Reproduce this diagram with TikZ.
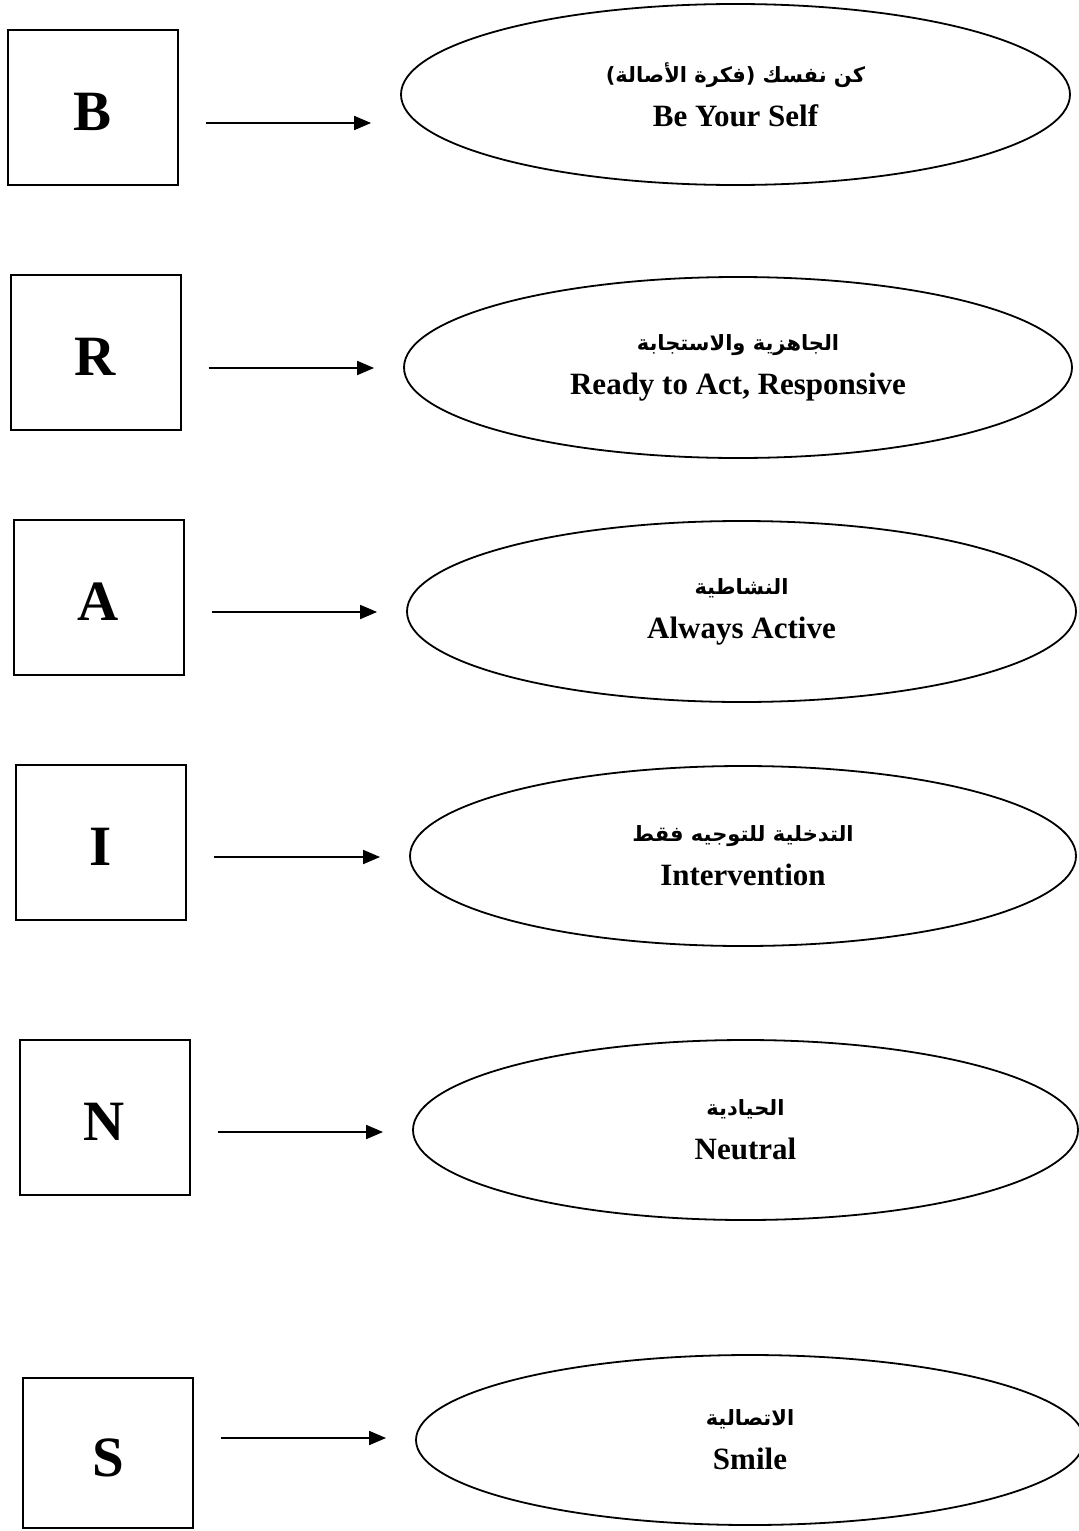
\documentclass[tikz,border=0pt]{standalone}
\usepackage{fontspec}
\setmainfont{Liberation Serif}
\newfontfamily\arabicfont[Script=Arabic]{DejaVu Sans}
\TeXXeTstate=1
\usetikzlibrary{shapes.geometric,arrows.meta}
\tikzset{
  letterbox/.style={draw, line width=1pt, minimum width=85pt, minimum height=77.5pt, inner sep=0pt, font=\fontsize{28.5}{30}\selectfont\bfseries},
  oval/.style={draw, ellipse, line width=0.9pt, inner sep=0pt, align=center, font=\fontsize{15.5}{22}\selectfont\bfseries},
  arr/.style={line width=0.9pt, -{Triangle[length=8.5pt,width=7pt]}, shorten <=13.5pt, shorten >=14.5pt},
}
\newcommand{\ar}[1]{{\arabicfont\fontsize{10.5}{14}\selectfont\bfseries\beginR #1\endR}}
\newcommand{\lt}[1]{\raisebox{-2.2pt}[\height][0pt]{#1}}
\begin{document}
\begin{tikzpicture}[x=0.5pt,y=-0.5pt]
\useasboundingbox (0,0) rectangle (1079,1531);
\begin{scope}
\clip (0,0) rectangle (1079,1531);
% B
\node[letterbox] (bB) at (93,107.5) {\lt{B}};
\node[oval, minimum width=334.5pt, minimum height=90.5pt] (eB) at (735.5,94.5) {\ar{كن نفسك (فكرة الأصالة)}\\ Be Your Self};
\coordinate (aB) at (0,123);
\draw[arr] (bB.east |- aB) -- (eB.west |- aB);
% R
\node[letterbox] (bR) at (95.5,352.5) {\lt{R}};
\node[oval, minimum width=334pt, minimum height=90.5pt] (eR) at (738,367.5) {\ar{الجاهزية والاستجابة}\\ Ready to Act, Responsive};
\coordinate (aR) at (0,368);
\draw[arr] (bR.east |- aR) -- (eR.west |- aR);
% A
\node[letterbox] (bA) at (98.5,597) {\lt{A}};
\node[oval, minimum width=334.5pt, minimum height=90.5pt] (eA) at (741.5,611.5) {\ar{النشاطية}\\ Always Active};
\coordinate (aA) at (0,612);
\draw[arr] (bA.east |- aA) -- (eA.west |- aA);
% I
\node[letterbox] (bI) at (101,842) {\lt{I}};
\node[oval, minimum width=333pt, minimum height=90pt] (eI) at (743,856) {\ar{التدخلية للتوجيه فقط}\\ Intervention};
\coordinate (aI) at (0,857);
\draw[arr] (bI.east |- aI) -- (eI.west |- aI);
% N
\node[letterbox] (bN) at (104.5,1117.5) {\lt{N}};
\node[oval, minimum width=332.5pt, minimum height=90pt] (eN) at (745.5,1130) {\ar{الحيادية}\\ Neutral};
\coordinate (aN) at (0,1132);
\draw[arr] (bN.east |- aN) -- (eN.west |- aN);
% S
\node[letterbox, minimum height=75pt] (bS) at (108,1453) {\lt{S}};
\node[oval, minimum width=334pt, minimum height=85pt] (eS) at (750,1440) {\ar{الاتصالية}\\ Smile};
\coordinate (aS) at (0,1438);
\draw[arr] (bS.east |- aS) -- (eS.west |- aS);
\end{scope}
\end{tikzpicture}
\end{document}
